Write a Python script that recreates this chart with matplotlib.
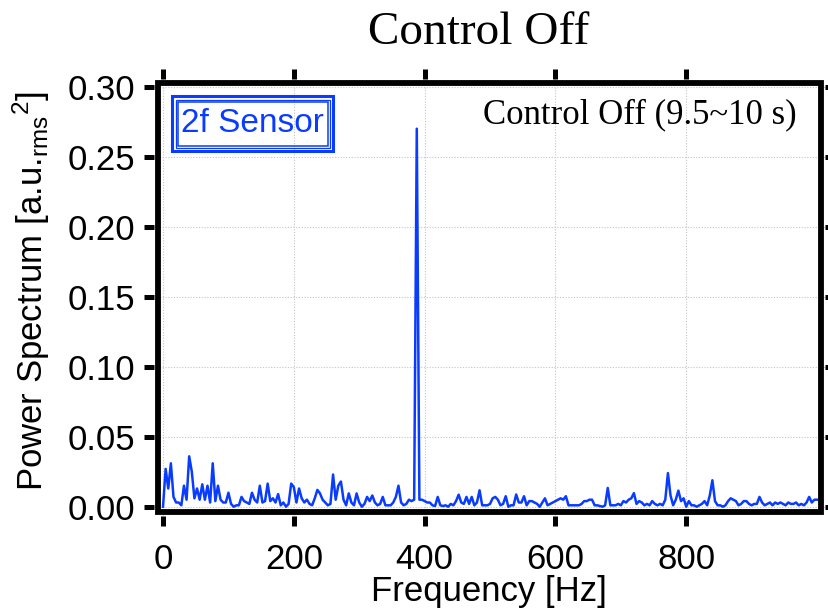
import matplotlib
matplotlib.use("Agg")
import matplotlib.pyplot as plt
import numpy as np
from matplotlib.patches import Rectangle

# Power spectrum of the 2f sensor, 4 Hz bins from 0 to 1000 Hz
BIN_HZ = 4
power = [
    0.000, 0.027, 0.013, 0.031, 0.007, 0.003, 0.003, 0.001, 0.015, 0.005,   # 0-36
    0.036, 0.025, 0.006, 0.013, 0.005, 0.016, 0.005, 0.015, 0.003, 0.031,   # 40-76
    0.004, 0.015, 0.005, 0.003, 0.003, 0.010, 0.002, 0.000, 0.001, 0.001,   # 80-116
    0.007, 0.004, 0.003, 0.002, 0.010, 0.005, 0.003, 0.015, 0.003, 0.004,   # 120-156
    0.0165, 0.004, 0.006, 0.003, 0.009, 0.001, 0.003, 0.000, 0.002, 0.0165, # 160-196
    0.014, 0.003, 0.013, 0.006, 0.003, 0.005, 0.002, 0.001, 0.006, 0.012,   # 200-236
    0.0095, 0.005, 0.003, 0.001, 0.002, 0.023, 0.005, 0.015, 0.018, 0.005,  # 240-276
    0.001, 0.0095, 0.003, 0.001, 0.0095, 0.003, 0.000, 0.002, 0.007, 0.004, # 280-316
    0.008, 0.003, 0.001, 0.002, 0.007, 0.001, 0.001, 0.001, 0.003, 0.007,   # 320-356
    0.015, 0.003, 0.001, 0.002, 0.005, 0.004, 0.005, 0.270, 0.005, 0.005,   # 360-396
    0.004, 0.003, 0.003, 0.001, 0.0005, 0.007, 0.001, 0.0005, 0.001, 0.000, # 400-436
    0.002, 0.001, 0.004, 0.0086, 0.003, 0.002, 0.007, 0.002, 0.007, 0.001,  # 440-476
    0.003, 0.0117, 0.001, 0.001, 0.001, 0.002, 0.006, 0.007, 0.005, 0.001,  # 480-516
    0.002, 0.0075, 0.000, 0.001, 0.001, 0.0087, 0.003, 0.003, 0.0075, 0.001,# 520-556
    0.004, 0.004, 0.003, 0.002, 0.000, 0.003, 0.006, 0.001, 0.002, 0.003,   # 560-596
    0.004, 0.005, 0.006, 0.005, 0.0075, 0.001, 0.001, 0.001, 0.001, 0.001,  # 600-636
    0.002, 0.004, 0.004, 0.005, 0.005, 0.001, 0.001, 0.0005, 0.000, 0.001,  # 640-676
    0.0134, 0.001, 0.001, 0.001, 0.002, 0.001, 0.004, 0.003, 0.005, 0.006,  # 680-716
    0.0097, 0.002, 0.004, 0.003, 0.001, 0.002, 0.001, 0.004, 0.002, 0.001,  # 720-756
    0.002, 0.001, 0.005, 0.024, 0.008, 0.001, 0.005, 0.0115, 0.004, 0.006,  # 760-796
    0.000, 0.004, 0.001, 0.001, 0.000, 0.001, 0.002, 0.004, 0.001, 0.008,   # 800-836
    0.0189, 0.004, 0.001, 0.001, 0.000, 0.001, 0.004, 0.006, 0.005, 0.004,  # 840-876
    0.001, 0.002, 0.004, 0.004, 0.002, 0.001, 0.002, 0.002, 0.007, 0.003,   # 880-916
    0.001, 0.002, 0.003, 0.001, 0.003, 0.002, 0.003, 0.002, 0.001, 0.003,   # 920-956
    0.002, 0.002, 0.003, 0.001, 0.002, 0.001, 0.003, 0.007, 0.003, 0.005,   # 960-996
    0.005,                                                                  # 1000
]
freq = np.arange(len(power)) * BIN_HZ

x_ticks = [0, 200, 400, 600, 800]
y_ticks = [0.00, 0.05, 0.10, 0.15, 0.20, 0.25, 0.30]
y_tick_labels = ["0.00", "0.05", "0.10", "0.15", "0.20", "0.25", "0.30"]

title_text = "Control Off"
window_text = "Control Off (9.5~10 s)"
sensor_text = "2f Sensor"
x_label = "Frequency [Hz]"
y_label = r"Power Spectrum [a.u.$_{\mathrm{rms}}$$^{2}$]"

BLUE = "#0a3cff"
SANS = "Liberation Sans"
SERIF = "Liberation Serif"

plt.rcParams["font.family"] = SANS
plt.rcParams["mathtext.fontset"] = "custom"
plt.rcParams["mathtext.rm"] = SANS
plt.rcParams["mathtext.it"] = SANS + ":italic"
plt.rcParams["mathtext.bf"] = SANS + ":bold"

W, H = 829, 613
fig = plt.figure(figsize=(W / 100, H / 100), dpi=100)


def fx(px):
    return px / W


def fy(py):
    return 1 - py / H


ax = fig.add_axes([fx(154), fy(516), fx(825) - fx(154), fy(78.5) - fy(516)])
ax.plot(freq, power, color=BLUE, lw=1.8, zorder=3)

ax.set_xlim(-13.8, 1012.2)
ax.set_ylim(-0.00664, 0.30586)
ax.set_xticks(x_ticks)
ax.set_yticks(y_ticks)
ax.set_yticklabels(y_tick_labels)

for s in ax.spines.values():
    s.set_visible(False)

ax.tick_params(which="major", direction="out", length=7.2, width=3.6,
               top=True, right=True, labelsize=25, color="black")
ax.tick_params(axis="x", pad=12)
ax.tick_params(axis="y", pad=6)
ax.grid(True, color="#c4c4c4", linestyle=(0, (1.0, 1.5)), lw=0.8, zorder=1)

# heavy frame standing slightly off the tick marks
ax.add_patch(Rectangle((fx(158.5), fy(511.5)), fx(821) - fx(158.5),
                       fy(82.7) - fy(511.5), transform=fig.transFigure,
                       fill=False, lw=4.2, ec="black", joinstyle="miter",
                       clip_on=False, zorder=6))

# sensor tag with a triple outline
bx0, by0, bx1, by1 = 172.5, 96.5, 333, 151
for inset, lw in [(0, 2.2), (3.2, 0.9), (5.4, 1.1)]:
    ax.add_patch(Rectangle((fx(bx0 + inset), fy(by1 - inset)),
                           fx(bx1 - inset) - fx(bx0 + inset),
                           fy(by0 + inset) - fy(by1 - inset),
                           transform=fig.transFigure, fill=False, lw=lw,
                           ec=BLUE, clip_on=False, zorder=7))
fig.text(fx((bx0 + bx1) / 2), fy(124), sensor_text, color=BLUE, fontsize=24,
         ha="center", va="center")

fig.text(fx(797), fy(123), window_text, family=SERIF, fontsize=25,
         ha="right", va="baseline")
fig.text(fx(478.5), fy(44), title_text, family=SERIF, fontsize=34,
         ha="center", va="baseline")

fig.text(fx(489), fy(601), x_label, fontsize=25, ha="center", va="baseline")
fig.text(fx(31), fy(291), y_label, fontsize=25, rotation=90,
         ha="center", va="center")

fig.savefig("out.png", dpi=100)
